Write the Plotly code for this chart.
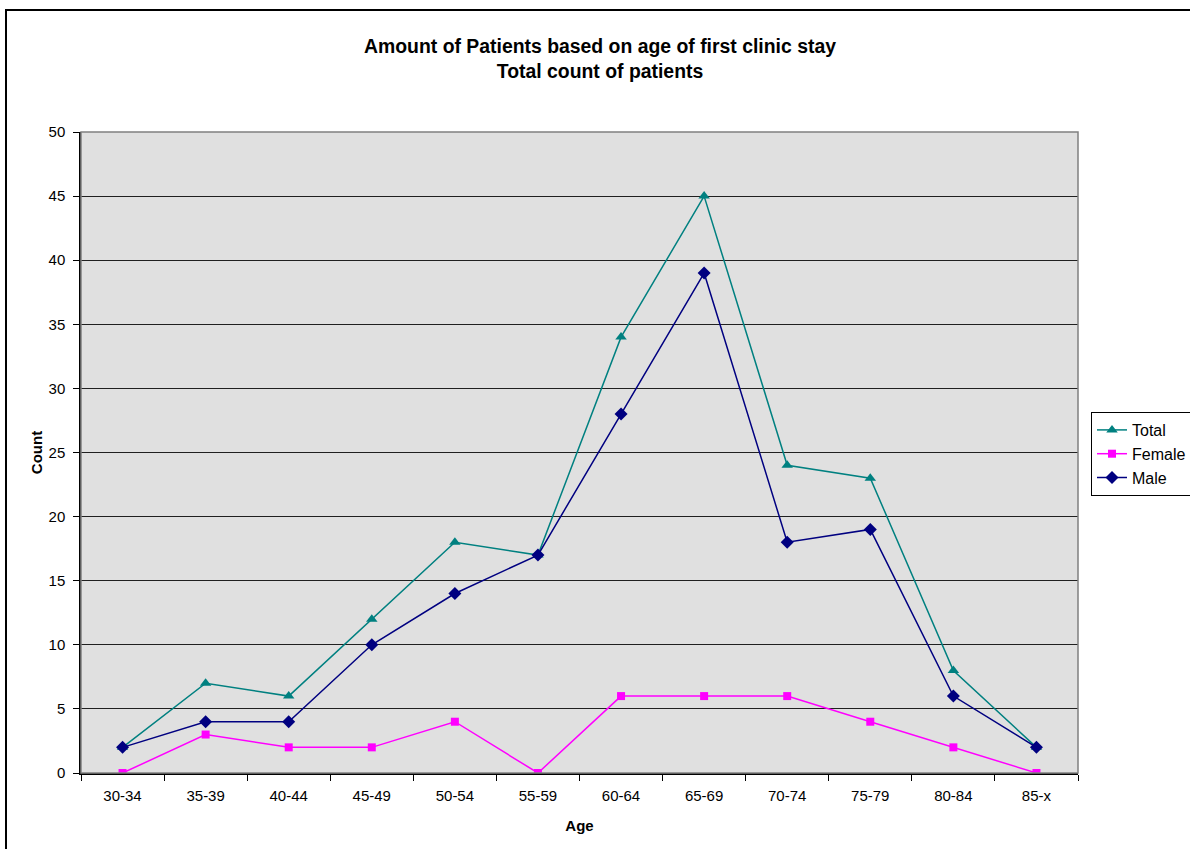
import plotly.graph_objects as go

age_groups = ["30-34", "35-39", "40-44", "45-49", "50-54", "55-59",
              "60-64", "65-69", "70-74", "75-79", "80-84", "85-x"]
total = [2, 7, 6, 12, 18, 17, 34, 45, 24, 23, 8, 2]
female = [0, 3, 2, 2, 4, 0, 6, 6, 6, 4, 2, 0]
male = [2, 4, 4, 10, 14, 17, 28, 39, 18, 19, 6, 2]

W, H = 1190, 849
L, T, R, B = 81, 132, 1078, 773
pw, ph = R - L, B - T

FAM = "Arial, Liberation Sans, sans-serif"
font = dict(family=FAM, size=15, color="black")

fig = go.Figure()
fig.add_trace(go.Scatter(x=age_groups, y=total, name="Total", mode="lines+markers",
                         line=dict(color="#008080", width=1.5),
                         marker=dict(symbol="triangle-up", size=10, color="#008080")))
fig.add_trace(go.Scatter(x=age_groups, y=female, name="Female", mode="lines+markers",
                         line=dict(color="#FF00FF", width=1.5),
                         marker=dict(symbol="square", size=8, color="#FF00FF")))
fig.add_trace(go.Scatter(x=age_groups, y=male, name="Male", mode="lines+markers",
                         line=dict(color="#000080", width=1.5),
                         marker=dict(symbol="diamond", size=10, color="#000080")))

# outer chart frame
fig.add_shape(type="rect", xref="paper", yref="paper", layer="below",
              x0=(6 - L) / pw, x1=(W + 20 - L) / pw,
              y0=(B - (H + 20)) / ph, y1=(B - 10) / ph,
              line=dict(color="black", width=2), fillcolor="rgba(0,0,0,0)")
# plot-area frame
fig.add_shape(type="rect", xref="paper", yref="paper", layer="above",
              x0=0, x1=1, y0=0, y1=1,
              line=dict(color="#808080", width=1.5), fillcolor="rgba(0,0,0,0)")

fig.update_layout(
    width=W, height=H,
    margin=dict(l=L, r=W - R, t=T, b=H - B, autoexpand=False),
    paper_bgcolor="white",
    plot_bgcolor="#E0E0E0",
    font=font,
    title=dict(text="<b>Amount of Patients based on age of first clinic stay<br>Total count of patients</b>",
               x=600 / W, xanchor="center", y=1 - 53 / H, yanchor="top",
               font=dict(family=FAM, size=19.4, color="black")),
    xaxis=dict(
        title=dict(text="<b>Age</b>", font=dict(size=15), standoff=18),
        type="category", tickson="boundaries", ticks="outside", ticklen=6,
        tickcolor="black", showgrid=False, showline=True, linecolor="black",
        linewidth=1.5, range=[-0.5, len(age_groups) - 0.5],
        tickfont=dict(size=15), ticklabelstandoff=8,
    ),
    yaxis=dict(
        title=dict(text="<b>Count</b>", font=dict(size=15), standoff=2),
        range=[0, 50], dtick=5, ticks="outside", ticklen=6, tickcolor="black",
        showgrid=True, gridcolor="#202020", gridwidth=1.2, showline=True,
        linecolor="black", linewidth=1.5, zeroline=False,
        tickfont=dict(size=15), ticklabelstandoff=5,
    ),
    legend=dict(x=(1091 - L) / pw, xanchor="left", y=(B - 412) / ph, yanchor="top",
                bgcolor="white", bordercolor="black", borderwidth=1,
                font=dict(size=16), tracegroupgap=0, itemwidth=30),
    showlegend=True,
)

fig.write_html("out.html")
